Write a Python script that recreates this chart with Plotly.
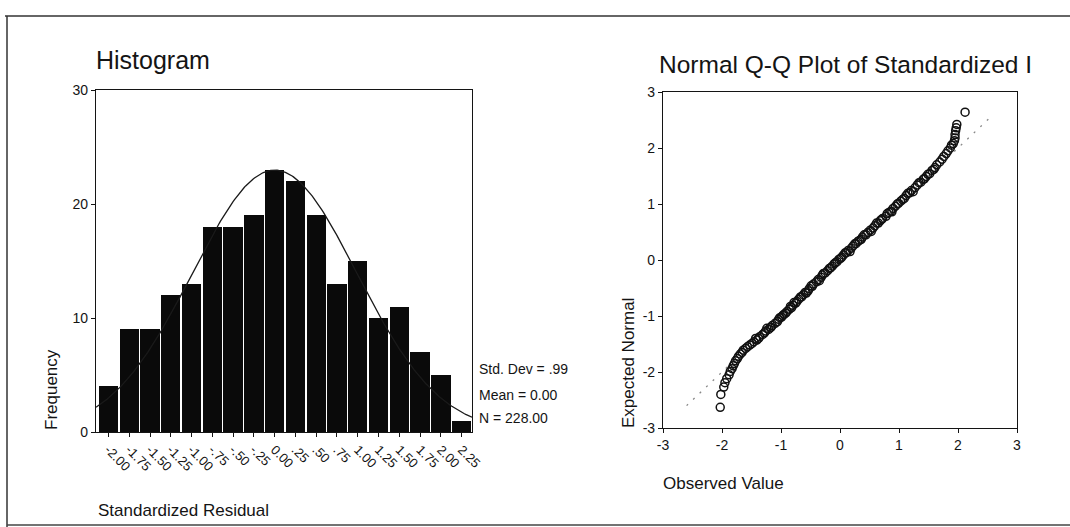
import numpy as np
import plotly.graph_objects as go

# ---------------- data ----------------
bin_centers = [-2.00, -1.75, -1.50, -1.25, -1.00, -0.75, -0.50, -0.25, 0.00,
               0.25, 0.50, 0.75, 1.00, 1.25, 1.50, 1.75, 2.00, 2.25]
bin_labels = ["-2.00", "-1.75", "-1.50", "-1.25", "-1.00", "-.75", "-.50", "-.25", "0.00",
              ".25", ".50", ".75", "1.00", "1.25", "1.50", "1.75", "2.00", "2.25"]
frequencies = [4, 9, 9, 12, 13, 18, 18, 19, 23, 22, 19, 13, 15, 10, 11, 7, 5, 1]

std_dev = 0.99
mean_val = 0.00
n_total = 228
bin_width = 0.25
stats_lines = ["Std. Dev = .99", "Mean = 0.00", "N = 228.00"]

hist_y_ticks = [0, 10, 20, 30]
qq_ticks = [-3, -2, -1, 0, 1, 2, 3]
qq_tick_labels = ["-3", "-2", "-1", "0", "1", "2", "3"]

qq_observed = [-2.03, -2.02, -1.97, -1.95, -1.92, -1.88, -1.86, -1.83, -1.81, -1.79,
               -1.77, -1.74, -1.72, -1.69, -1.66, -1.64, -1.60, -1.57, -1.53, -1.49,
               -1.46, -1.41, -1.38, -1.36, -1.31, -1.28, -1.26, -1.21, -1.17, -1.15,
               -1.10, -1.06, -1.04, -0.99, -0.97, -0.92, -0.90, -0.86, -0.82, -0.80,
               -0.75, -0.73, -0.70, -0.65, -0.62, -0.59, -0.54, -0.52, -0.47, -0.45,
               -0.40, -0.37, -0.32, -0.30, -0.25, -0.21, -0.18, -0.13, -0.10, -0.05,
               -0.02, 0.03, 0.06, 0.11, 0.14, 0.19, 0.22, 0.27, 0.30, 0.36,
               0.38, 0.44, 0.47, 0.51, 0.56, 0.59, 0.65, 0.68, 0.72, 0.78,
               0.80, 0.86, 0.90, 0.94, 0.99, 1.03, 1.09, 1.12, 1.18, 1.21,
               1.27, 1.31, 1.37, 1.41, 1.46, 1.52, 1.56, 1.61, 1.64, 1.69,
               1.73, 1.76, 1.80, 1.83, 1.87, 1.89, 1.92, 1.94, 1.95, 1.95,
               1.96, 1.97, 1.98, 2.12,
               -1.43, -1.24, -1.02, -0.84, -0.67, -0.49, -0.28, -0.08, 0.09, 0.25,
               0.41, 0.62, 0.83, 0.97, 1.15, 1.34, 1.49,
               -1.18, -0.95, -0.78, -0.57, -0.35, -0.16, 0.01, 0.17, 0.33, 0.53,
               0.70, 0.88, 1.06, 1.24, 1.43, 1.59]
qq_expected = [-2.63, -2.40, -2.27, -2.19, -2.12, -2.05, -1.99, -1.94, -1.89, -1.85,
               -1.80, -1.76, -1.72, -1.68, -1.65, -1.61, -1.58, -1.55, -1.52, -1.49,
               -1.46, -1.43, -1.40, -1.37, -1.33, -1.30, -1.27, -1.24, -1.20, -1.17,
               -1.13, -1.10, -1.06, -1.02, -0.99, -0.95, -0.92, -0.88, -0.85, -0.81,
               -0.77, -0.74, -0.70, -0.66, -0.62, -0.58, -0.55, -0.51, -0.47, -0.43,
               -0.39, -0.35, -0.31, -0.27, -0.23, -0.19, -0.15, -0.11, -0.07, -0.03,
               0.01, 0.05, 0.09, 0.13, 0.17, 0.21, 0.25, 0.29, 0.33, 0.37,
               0.41, 0.45, 0.49, 0.53, 0.57, 0.61, 0.66, 0.70, 0.74, 0.78,
               0.83, 0.87, 0.92, 0.96, 1.01, 1.05, 1.10, 1.15, 1.20, 1.24,
               1.29, 1.34, 1.39, 1.44, 1.49, 1.54, 1.60, 1.65, 1.70, 1.75,
               1.80, 1.85, 1.90, 1.95, 2.00, 2.05, 2.08, 2.13, 2.18, 2.24,
               2.31, 2.36, 2.42, 2.64,
               -1.40, -1.22, -1.03, -0.83, -0.66, -0.46, -0.24, -0.05, 0.13, 0.29,
               0.45, 0.66, 0.85, 1.00, 1.19, 1.38, 1.53,
               -1.21, -0.97, -0.76, -0.59, -0.37, -0.14, 0.03, 0.15, 0.35, 0.51,
               0.72, 0.86, 1.08, 1.22, 1.45, 1.62]

ref_line = [-2.6, 2.6]

# ---------------- figure ----------------
FONT = "Liberation Sans, Arial, sans-serif"
INK = "#141414"
W, H = 1070, 527

def px_x(p):
    return p / W

def px_y(p):
    return 1 - p / H

fig = go.Figure()

# normal curve (from mean, std dev and N)
curve_x = np.linspace(-2.15, 2.375, 300)
curve_y = n_total * bin_width / (std_dev * np.sqrt(2 * np.pi)) * np.exp(-0.5 * ((curve_x - mean_val) / std_dev) ** 2)

fig.add_trace(go.Bar(
    x=bin_centers, y=frequencies, width=bin_width * 0.93,
    marker=dict(color="#0a0a0a", line=dict(width=0)),
    xaxis="x", yaxis="y", showlegend=False, hoverinfo="skip"))
fig.add_trace(go.Scatter(
    x=curve_x, y=curve_y, mode="lines",
    line=dict(color="#1a1a1a", width=1.3),
    xaxis="x", yaxis="y", showlegend=False, hoverinfo="skip"))

fig.add_trace(go.Scatter(
    x=ref_line, y=ref_line, mode="lines",
    line=dict(color="#888888", width=1.3, dash="2px,7px"),
    xaxis="x2", yaxis="y2", showlegend=False, hoverinfo="skip"))
fig.add_trace(go.Scatter(
    x=qq_observed, y=qq_expected, mode="markers",
    marker=dict(symbol="circle-open", size=8, color="#111111", line=dict(width=1.5)),
    xaxis="x2", yaxis="y2", showlegend=False, hoverinfo="skip"))

axis_common = dict(showgrid=False, zeroline=False, showline=True, linecolor=INK,
                   linewidth=1.2, mirror=True, ticks="outside", ticklen=4,
                   tickcolor=INK, tickwidth=1, automargin=False,
                   tickfont=dict(family=FONT, size=14, color=INK))

fig.update_layout(
    width=W, height=H, autosize=False,
    margin=dict(l=0, r=0, t=0, b=0, pad=0, autoexpand=False),
    paper_bgcolor="white", plot_bgcolor="white",
    bargap=0,
    xaxis=dict(axis_common, domain=[px_x(96), px_x(472)], range=[-2.15, 2.375],
               tickvals=bin_centers, ticktext=bin_labels, tickangle=45,
               tickfont=dict(family=FONT, size=13, color=INK), anchor="y"),
    yaxis=dict(axis_common, domain=[px_y(432), px_y(90)], range=[0, 30],
               tickvals=hist_y_ticks, anchor="x"),
    xaxis2=dict(axis_common, domain=[px_x(663), px_x(1017)], range=[-3, 3],
                tickvals=qq_ticks, ticktext=qq_tick_labels, anchor="y2"),
    yaxis2=dict(axis_common, domain=[px_y(428), px_y(92)], range=[-3, 3],
                tickvals=qq_ticks, ticktext=qq_tick_labels, anchor="x2"),
)

ann = []
ann.append(dict(text="Histogram", x=px_x(94), y=px_y(60), xref="paper", yref="paper",
                xanchor="left", yanchor="middle", showarrow=False,
                font=dict(family=FONT, size=25, color=INK)))
ann.append(dict(text="Normal Q-Q Plot of Standardized I", x=px_x(657), y=px_y(64),
                xref="paper", yref="paper", xanchor="left", yanchor="middle",
                showarrow=False, font=dict(family=FONT, size=24.5, color=INK)))
ann.append(dict(text="Frequency", x=px_x(51), y=px_y(390), xref="paper", yref="paper",
                xanchor="center", yanchor="middle", textangle=-90, showarrow=False,
                font=dict(family=FONT, size=17, color=INK)))
ann.append(dict(text="Standardized Residual", x=px_x(96), y=px_y(510), xref="paper",
                yref="paper", xanchor="left", yanchor="middle", showarrow=False,
                font=dict(family=FONT, size=17, color=INK)))
ann.append(dict(text="Expected Normal", x=px_x(628), y=px_y(363), xref="paper",
                yref="paper", xanchor="center", yanchor="middle", textangle=-90,
                showarrow=False, font=dict(family=FONT, size=17, color=INK)))
ann.append(dict(text="Observed Value", x=px_x(661), y=px_y(483), xref="paper",
                yref="paper", xanchor="left", yanchor="middle", showarrow=False,
                font=dict(family=FONT, size=17, color=INK)))
for line, ypx in zip(stats_lines, [369, 395, 418]):
    ann.append(dict(text=line, x=px_x(477), y=px_y(ypx), xref="paper", yref="paper",
                    xanchor="left", yanchor="middle", showarrow=False,
                    font=dict(family=FONT, size=14, color=INK)))
fig.update_layout(annotations=ann)

# scanned page frame
fig.add_shape(type="line", xref="paper", yref="paper", x0=px_x(5), x1=1, y0=px_y(16), y1=px_y(16),
              line=dict(color="#333333", width=1.5))
fig.add_shape(type="line", xref="paper", yref="paper", x0=px_x(7), x1=px_x(7), y0=px_y(16), y1=0,
              line=dict(color="#333333", width=1.5))
fig.add_shape(type="line", xref="paper", yref="paper", x0=px_x(7), x1=1, y0=px_y(525), y1=px_y(525),
              line=dict(color="#444444", width=1.5))

fig.write_html(
    "out.html",
    config={"responsive": False, "displayModeBar": False},
    post_script="document.body.style.margin='0';document.body.style.overflow='hidden';",
)
